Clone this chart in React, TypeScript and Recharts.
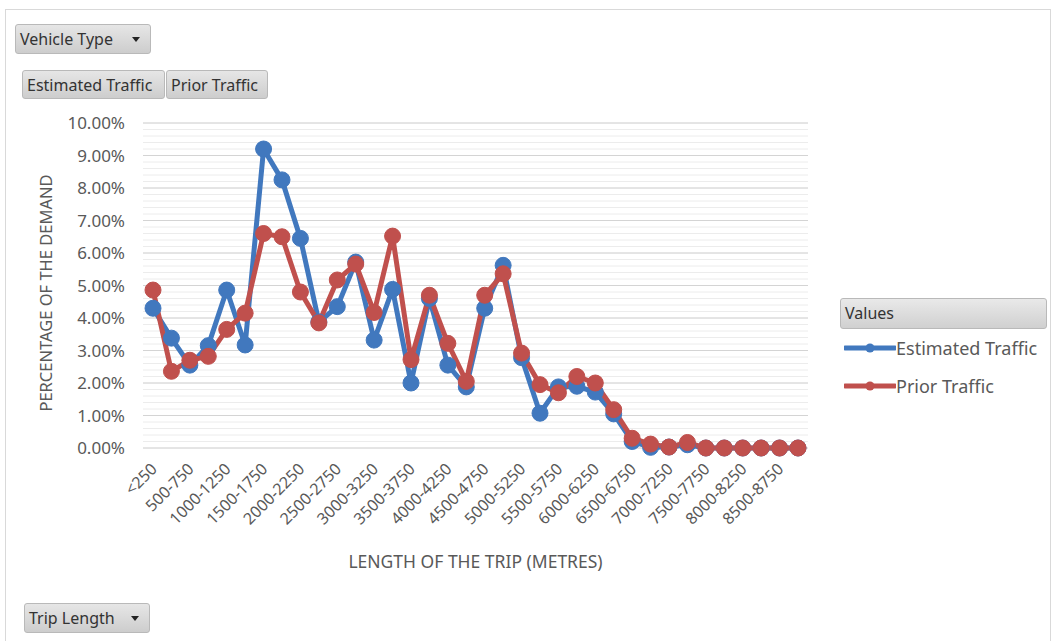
import { LineChart, Line, XAxis, YAxis, CartesianGrid } from 'recharts';

const categories = [
  '<250', '250-500', '500-750', '750-1000', '1000-1250', '1250-1500', '1500-1750', '1750-2000',
  '2000-2250', '2250-2500', '2500-2750', '2750-3000', '3000-3250', '3250-3500', '3500-3750', '3750-4000',
  '4000-4250', '4250-4500', '4500-4750', '4750-5000', '5000-5250', '5250-5500', '5500-5750', '5750-6000',
  '6000-6250', '6250-6500', '6500-6750', '6750-7000', '7000-7250', '7250-7500', '7500-7750', '7750-8000',
  '8000-8250', '8250-8500', '8500-8750', '>8750',
];

// percentage of the demand
const estimated = [
  4.3, 3.38, 2.55, 3.15, 4.86, 3.17, 9.2, 8.25, 6.45, 3.88, 4.35, 5.72,
  3.32, 4.88, 2.0, 4.6, 2.55, 1.88, 4.3, 5.62, 2.78, 1.07, 1.88, 1.9,
  1.72, 1.05, 0.2, 0.02, 0.03, 0.1, 0, 0, 0, 0, 0, 0,
];
const prior = [
  4.86, 2.36, 2.7, 2.82, 3.65, 4.15, 6.6, 6.5, 4.8, 3.85, 5.17, 5.66,
  4.17, 6.52, 2.72, 4.7, 3.22, 2.05, 4.7, 5.36, 2.92, 1.95, 1.7, 2.2,
  2.0, 1.18, 0.3, 0.12, 0.03, 0.17, 0, 0, 0, 0, 0, 0,
];

const Y_MAX = 10;
const majorTicks = [0, 1, 2, 3, 4, 5, 6, 7, 8, 9, 10];
const minorTicks = Array.from({ length: 51 }, (_, i) => +(i * 0.2).toFixed(1));

const data = categories.map((c, i) => ({ name: c, est: estimated[i], prior: prior[i] }));

const FONT = '"Noto Sans", "Open Sans", sans-serif';
const BLUE = '#4178be';
const RED = '#c0504d';
const GREY_TEXT = '#595959';

const btn: React.CSSProperties = {
  position: 'absolute',
  boxSizing: 'border-box',
  height: 30,
  border: '1px solid #b9b9b9',
  borderRadius: 3,
  background: 'linear-gradient(#e6e6e6, #cdcdcd)',
  fontFamily: FONT,
  fontSize: 16,
  color: '#333',
  lineHeight: '28px',
  paddingLeft: 4,
};

const Arrow = () => (
  <span style={{ position: 'absolute', right: 10, top: 12, width: 0, height: 0, borderLeft: '4px solid transparent', borderRight: '4px solid transparent', borderTop: '5px solid #222' }} />
);

const XTick = (props: any) => {
  const { x, y, payload } = props;
  const ax = x + 5;
  const ay = y + 14;
  return (
    <text x={ax} y={ay} transform={`rotate(-45, ${ax}, ${ay})`} textAnchor="end" fill={GREY_TEXT} fontSize={16} fontFamily={FONT}>
      {payload.value}
    </text>
  );
};

// minor gridlines every 0.2%
const minorGrid = (args: any) => {
  const o = args?.offset;
  if (!o) return [];
  return minorTicks.map((t) => o.top + o.height * (1 - t / Y_MAX));
};

const LegendBox = () => (
  <div style={{ position: 'absolute', left: 840, top: 298, fontFamily: FONT, width: 207 }}>
    <div style={{ ...btn, position: 'relative', height: 31, fontSize: 16, background: 'linear-gradient(#e9e9e9, #d0d0d0)' }}>Values</div>
    {[{ label: 'Estimated Traffic', color: BLUE }, { label: 'Prior Traffic', color: RED }].map((it) => (
      <div key={it.label} style={{ display: 'flex', alignItems: 'center', height: 38 }}>
        <svg width={52} height={12} style={{ marginLeft: 4 }}>
          <line x1={1} y1={6} x2={51} y2={6} stroke={it.color} strokeWidth={5} strokeLinecap="round" />
          <circle cx={26} cy={6} r={4.5} fill={it.color} />
        </svg>
        <span style={{ fontSize: 18, color: GREY_TEXT }}>{it.label}</span>
      </div>
    ))}
  </div>
);

export default function App() {
  return (
    <div style={{ position: 'absolute', left: 0, top: 0, width: 1057, height: 641, background: '#fff', overflow: 'hidden' }}>
      <div style={{ position: 'absolute', left: 5, top: 9, width: 1046, height: 640, border: '1px solid #d9d9d9', boxSizing: 'border-box' }} />
      <LineChart width={1057} height={641} data={data} margin={{ top: 123, right: 249, bottom: 63, left: 0 }} style={{ position: 'absolute', left: 0, top: 0 }}>
        <CartesianGrid vertical={false} stroke="#ececec" horizontalCoordinatesGenerator={minorGrid} />
        <CartesianGrid vertical={false} stroke="#d4d4d4" />
        <YAxis
          width={143}
          domain={[0, Y_MAX]}
          ticks={majorTicks}
          interval={0}
          tickFormatter={(v: number) => `${v.toFixed(2)}%`}
          axisLine={false}
          tickLine={false}
          tick={{ fill: GREY_TEXT, fontSize: 17, fontFamily: FONT }}
          tickMargin={12}
          label={{
            content: () => (
              <text x={52} y={293} transform="rotate(-90, 52, 293)" textAnchor="middle" fill={GREY_TEXT} fontSize={16.5} fontFamily={FONT}>
                PERCENTAGE OF THE DEMAND
              </text>
            ),
          }}
        />
        <XAxis
          dataKey="name"
          interval={1}
          padding={{ left: 10, right: 10 }}
          axisLine={false}
          tickLine={false}
          height={130}
          tick={<XTick />}
          label={{ value: 'LENGTH OF THE TRIP (METRES)', position: 'insideBottom', offset: 10, fill: GREY_TEXT, fontSize: 17.5, fontFamily: FONT }}
        />
        <Line dataKey="est" name="Estimated Traffic" stroke={BLUE} strokeWidth={5} dot={{ r: 8, fill: BLUE, stroke: BLUE, strokeWidth: 1 }} activeDot={false} isAnimationActive={false} />
        <Line dataKey="prior" name="Prior Traffic" stroke={RED} strokeWidth={5} dot={{ r: 8, fill: RED, stroke: RED, strokeWidth: 1 }} activeDot={false} isAnimationActive={false} />
      </LineChart>
      <LegendBox />
      <div style={{ ...btn, left: 15, top: 24, width: 136 }}>Vehicle Type<Arrow /></div>
      <div style={{ ...btn, left: 22, top: 70, width: 143, height: 29 }}>Estimated Traffic</div>
      <div style={{ ...btn, left: 166, top: 70, width: 102, height: 29 }}>Prior Traffic</div>
      <div style={{ ...btn, left: 24, top: 603, width: 126 }}>Trip Length<Arrow /></div>
    </div>
  );
}
